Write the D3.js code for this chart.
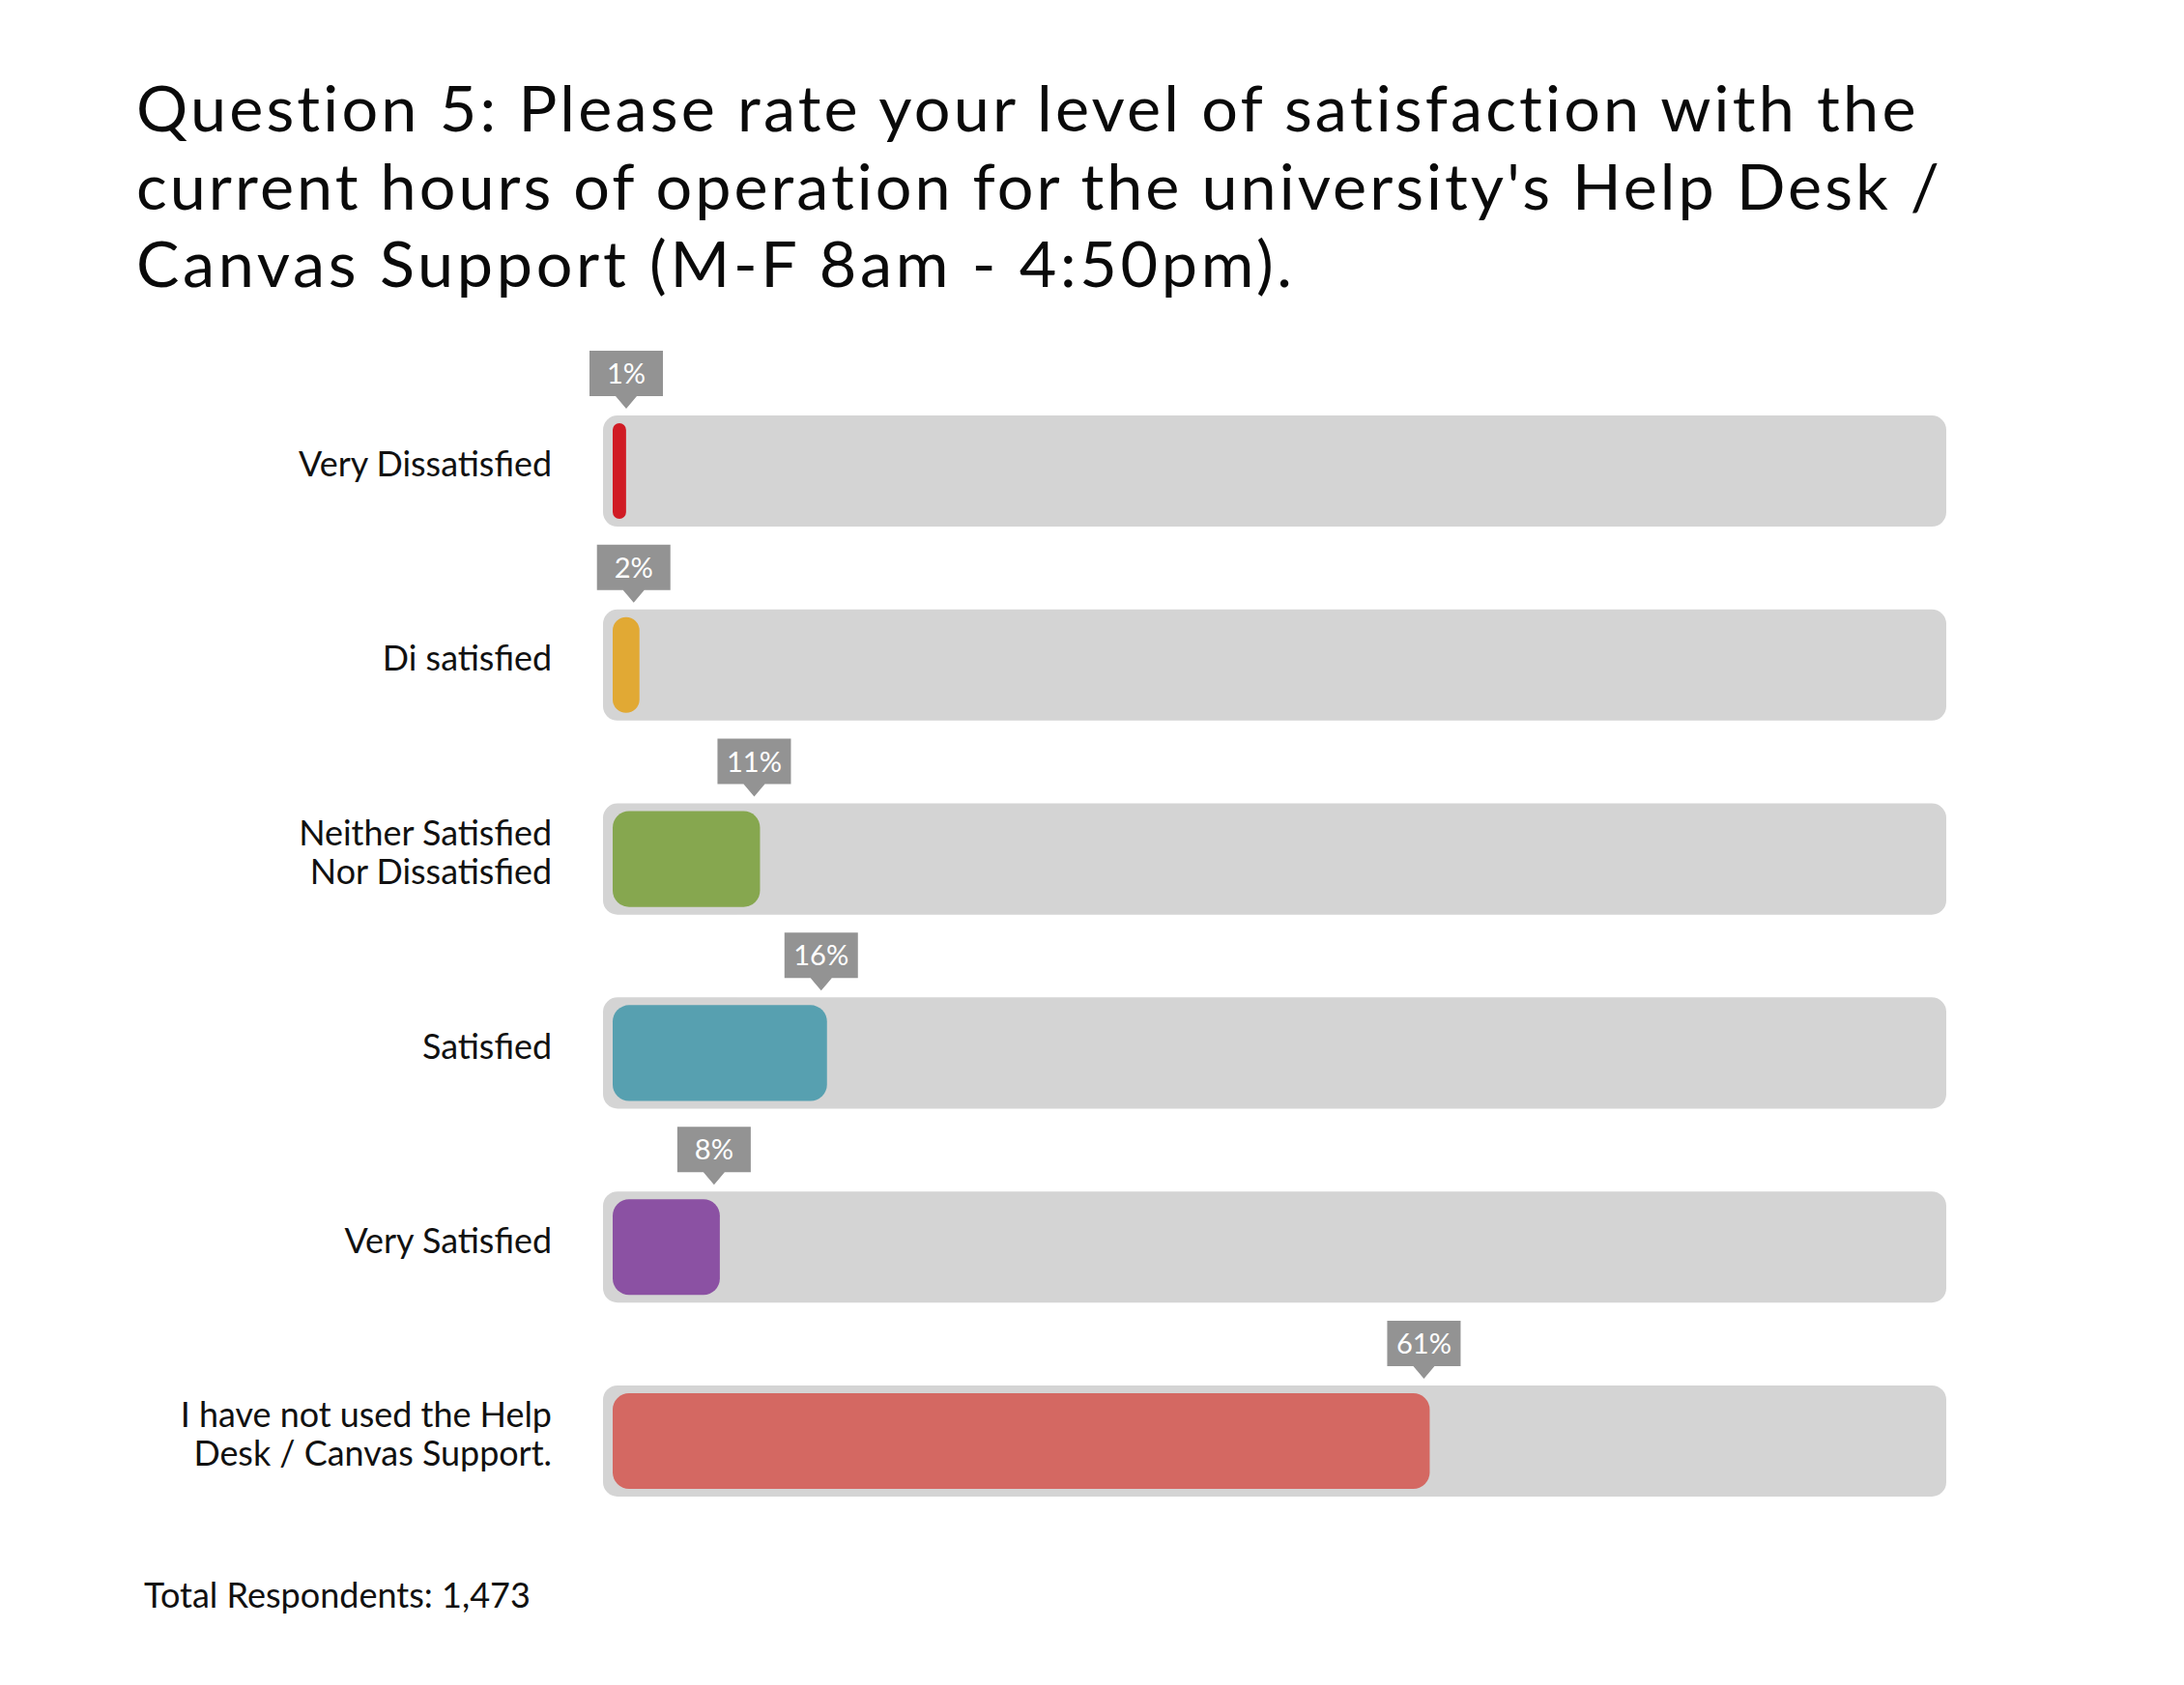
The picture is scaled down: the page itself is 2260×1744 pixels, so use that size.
<!DOCTYPE html>
<html>
<head>
<meta charset="utf-8">
<script src="https://cdn.jsdelivr.net/npm/d3@7"></script>
<style>
  html, body { margin: 0; padding: 0; background: #ffffff; }
  svg { display: block; }
  text { font-family: Lato, "Open Sans", "DejaVu Sans", sans-serif; }
</style>
</head>
<body>
<svg id="chart" width="2260" height="1744"></svg>
<script>
// ---- data ----
const titleLines = [
  "Question 5: Please rate your level of satisfaction with the",
  "current hours of operation for the university's Help Desk /",
  "Canvas Support (M-F 8am - 4:50pm)."
];
const categories = [
  "Very Dissatisfied",
  "Di satisfied",
  "Neither Satisfied Nor Dissatisfied",
  "Satisfied",
  "Very Satisfied",
  "I have not used the Help Desk / Canvas Support."
];
const categoryLines = [
  ["Very Dissatisfied"],
  ["Di satisfied"],
  ["Neither Satisfied", "Nor Dissatisfied"],
  ["Satisfied"],
  ["Very Satisfied"],
  ["I have not used the Help", "Desk / Canvas Support."]
];
const values = [1, 2, 11, 16, 8, 61];
const valueLabels = ["1%", "2%", "11%", "16%", "8%", "61%"];
const colors = ["#d01b24", "#e1a934", "#86a74f", "#57a0b0", "#8b51a3", "#d46862"];
const footer = "Total Respondents: 1,473";

// ---- layout ----
const svg = d3.select("#chart");
const trackX0 = 624, trackX1 = 2014;
const pad = 10;

const y = d3.scaleBand()
  .domain(categories)
  .range([430, 1549])
  .paddingInner(0.427)
  .paddingOuter(0);

const x = d3.scaleLinear()
  .domain([0, 100])
  .range([trackX0 + pad, trackX1 - pad + 16]);

// helper: natural width of a string at a size
function textWidth(str, size) {
  const t = svg.append("text").attr("font-size", size).text(str);
  const w = t.node().getComputedTextLength();
  t.remove();
  return w;
}
function fitSize(str, target, base) {
  return base * target / textWidth(str, base);
}

// ---- title ----
const titleSize = 66.5;
const titleTargets = [1845, 1867, 1196];
svg.append("g").selectAll("text")
  .data(titleLines)
  .join("text")
  .attr("x", 141)
  .attr("y", (d, i) => 136 + i * 80.5)
  .attr("font-size", titleSize)
  .attr("letter-spacing", (d, i) => {
    const w = textWidth(d, titleSize);
    return Math.max(0, (titleTargets[i] - w) / (d.length - 1));
  })
  .attr("fill", "#0a0a0a")
  .text(d => d);

// ---- rows ----
const labelSize = fitSize("Very Dissatisfied", 262, 30);
const rows = svg.append("g").selectAll("g")
  .data(categories.map((c, i) => ({ c, i, v: values[i], lab: valueLabels[i], lines: categoryLines[i], col: colors[i] })))
  .join("g");

// track
rows.append("rect")
  .attr("x", trackX0)
  .attr("y", d => y(d.c))
  .attr("width", trackX1 - trackX0)
  .attr("height", y.bandwidth())
  .attr("rx", 15).attr("ry", 15)
  .attr("fill", "#d4d4d4");

// value bar
rows.append("rect")
  .attr("x", x(0))
  .attr("y", d => y(d.c) + 8)
  .attr("width", d => x(d.v) - x(0))
  .attr("height", y.bandwidth() - 16)
  .attr("rx", d => Math.min(17, (x(d.v) - x(0)) / 2))
  .attr("ry", d => Math.min(17, (x(d.v) - x(0)) / 2))
  .attr("fill", d => d.col);

// callout box
const boxW = 76, boxH = 47, tipH = 13, tipHalf = 11;
const pctSize = fitSize("16%", 57, 30);
const callouts = rows.append("g")
  .attr("transform", d => `translate(${Math.max(x(d.v) - 6, x(0) + 14)},${y(d.c) - 7})`);
callouts.append("path")
  .attr("d", `M${-boxW/2},${-tipH - boxH}H${boxW/2}V${-tipH}H${tipHalf}L0,0L${-tipHalf},${-tipH}H${-boxW/2}Z`)
  .attr("fill", "#939393");
callouts.append("text")
  .attr("x", 0)
  .attr("y", -tipH - boxH / 2 + pctSize * 0.36)
  .attr("text-anchor", "middle")
  .attr("font-size", pctSize)
  .attr("fill", "#ffffff")
  .text(d => d.lab);

// category labels
const lineGap = 40;
rows.append("text")
  .attr("text-anchor", "end")
  .attr("font-size", labelSize)
  .attr("fill", "#111111")
  .each(function(d) {
    const cy = y(d.c) + y.bandwidth() / 2 - 7;
    const n = d.lines.length;
    const first = cy - (n - 1) * lineGap / 2 + labelSize * 0.36;
    d3.select(this).selectAll("tspan")
      .data(d.lines)
      .join("tspan")
      .attr("x", 571)
      .attr("y", (l, k) => first + k * lineGap)
      .text(l => l);
  });

// ---- footer ----
const footSize = fitSize(footer, 400, 30);
svg.append("text")
  .attr("x", 149)
  .attr("y", 1664)
  .attr("font-size", footSize)
  .attr("fill", "#111111")
  .text(footer);
</script>
</body>
</html>
